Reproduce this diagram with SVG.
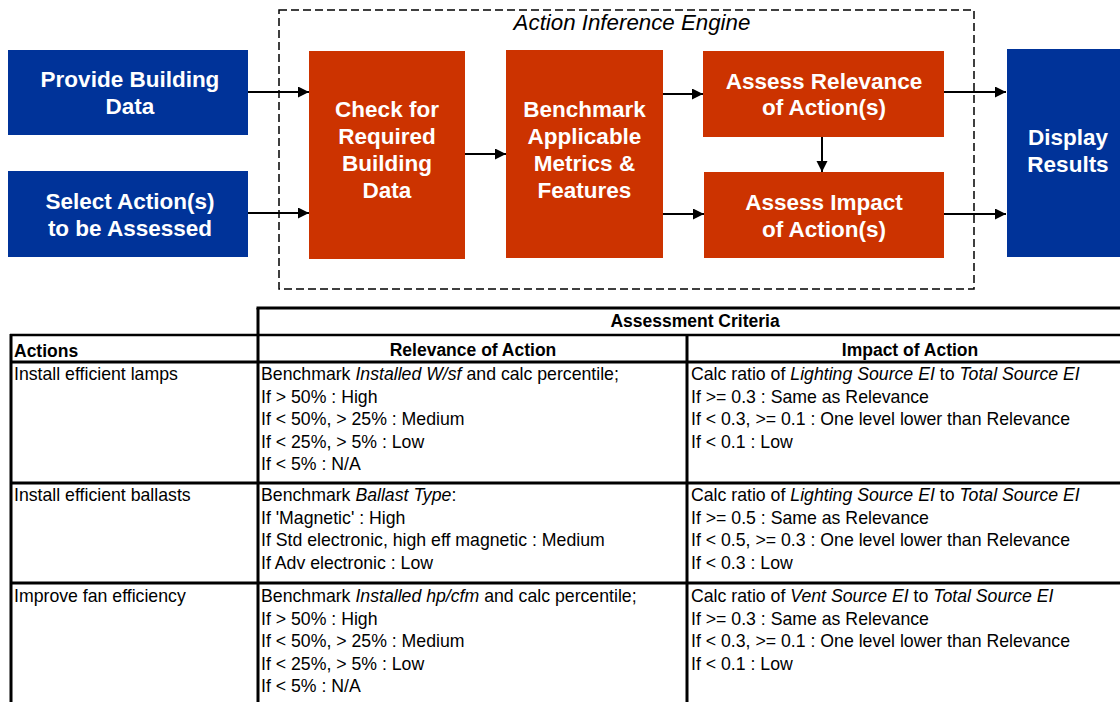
<svg xmlns="http://www.w3.org/2000/svg" width="1120" height="702" viewBox="0 0 1120 702">
<defs>
<marker id="ah" markerUnits="userSpaceOnUse" markerWidth="12" markerHeight="12" refX="11" refY="5.5" orient="auto">
<path d="M0,0 L11,5.5 L0,11 z" fill="#000"/>
</marker>
<style>
.blue{fill:#003399}
.orange{fill:#CC3300}
.nt{font-family:"Liberation Sans",Arial,sans-serif;font-size:22.5px;font-weight:bold;fill:#fff;text-anchor:middle}
.conn line{stroke:#000;stroke-width:2;marker-end:url(#ah)}
.grid line{stroke:#000;stroke-width:3}
.tt{font-family:"Liberation Sans",Arial,sans-serif;font-size:17.7px;fill:#000}
.th{font-family:"Liberation Sans",Arial,sans-serif;font-size:17.5px;font-weight:bold;fill:#000}
.it{font-style:italic}
</style>
</defs>
<rect width="1120" height="702" fill="#fff"/>

<g id="engine">
<rect x="279" y="10" width="695" height="279" fill="none" stroke="#000" stroke-width="1.5" stroke-dasharray="8 4"/>
<text x="632" y="30" font-family="Liberation Sans, Arial, sans-serif" font-size="22.3" font-style="italic" text-anchor="middle">Action Inference Engine</text>
</g>

<g id="provide">
<rect class="blue" x="8" y="50" width="240" height="85"/>
<text class="nt" x="130" y="87">Provide Building</text>
<text class="nt" x="130" y="114">Data</text>
</g>
<g id="select">
<rect class="blue" x="8" y="171" width="240" height="86"/>
<text class="nt" x="130" y="209">Select Action(s)</text>
<text class="nt" x="130" y="236">to be Assessed</text>
</g>
<g id="check">
<rect class="orange" x="309" y="51" width="156" height="208"/>
<text class="nt" x="387" y="117">Check for</text>
<text class="nt" x="387" y="144">Required</text>
<text class="nt" x="387" y="171">Building</text>
<text class="nt" x="387" y="198">Data</text>
</g>
<g id="benchmark">
<rect class="orange" x="506" y="50" width="157" height="208"/>
<text class="nt" x="584.5" y="117">Benchmark</text>
<text class="nt" x="584.5" y="144">Applicable</text>
<text class="nt" x="584.5" y="171">Metrics &amp;</text>
<text class="nt" x="584.5" y="198">Features</text>
</g>
<g id="relevance">
<rect class="orange" x="703" y="51" width="241" height="86"/>
<text class="nt" x="824" y="89">Assess Relevance</text>
<text class="nt" x="824" y="115">of Action(s)</text>
</g>
<g id="impact">
<rect class="orange" x="704" y="172" width="240" height="86"/>
<text class="nt" x="824" y="210">Assess Impact</text>
<text class="nt" x="824" y="237">of Action(s)</text>
</g>
<g id="display">
<rect class="blue" x="1007" y="49" width="120" height="208"/>
<text class="nt" x="1068" y="145">Display</text>
<text class="nt" x="1068" y="172">Results</text>
</g>

<g id="connectors" class="conn">
<line x1="248" y1="92" x2="309" y2="92"/>
<line x1="248" y1="213" x2="309" y2="213"/>
<line x1="465" y1="154" x2="506" y2="154"/>
<line x1="663" y1="94" x2="703" y2="94"/>
<line x1="663" y1="214" x2="704" y2="214"/>
<line x1="822" y1="137" x2="822" y2="172"/>
<line x1="944" y1="92" x2="1006" y2="92"/>
<line x1="944" y1="214" x2="1006" y2="214"/>
</g>

<g id="table">
<g class="grid">
<line x1="256.5" y1="308" x2="1120" y2="308"/>
<line x1="258" y1="308" x2="258" y2="702"/>
<line x1="10" y1="335" x2="1120" y2="335" style="stroke-width:2.5"/>
<line x1="11" y1="334" x2="11" y2="702"/>
<line x1="687" y1="335" x2="687" y2="702"/>
<line x1="10" y1="362" x2="1120" y2="362"/>
<line x1="10" y1="483" x2="1120" y2="483"/>
<line x1="10" y1="583" x2="1120" y2="583"/>
</g>
<text class="th" x="695" y="327" text-anchor="middle">Assessment Criteria</text>
<text class="th" x="14" y="357">Actions</text>
<text class="th" x="473" y="356" text-anchor="middle">Relevance of Action</text>
<text class="th" x="910" y="356" text-anchor="middle">Impact of Action</text>

<text class="tt" x="14" y="380">Install efficient lamps</text>
<text class="tt" x="261" y="380">Benchmark <tspan class="it">Installed W/sf</tspan> and calc percentile;</text>
<text class="tt" x="261" y="402.5">If &gt; 50% : High</text>
<text class="tt" x="261" y="425">If &lt; 50%, &gt; 25% : Medium</text>
<text class="tt" x="261" y="447.5">If &lt; 25%, &gt; 5% : Low</text>
<text class="tt" x="261" y="470">If &lt; 5% : N/A</text>
<text class="tt" x="691" y="380">Calc ratio of <tspan class="it">Lighting Source EI</tspan> to <tspan class="it">Total Source EI</tspan></text>
<text class="tt" x="691" y="402.5">If &gt;= 0.3 : Same as Relevance</text>
<text class="tt" x="691" y="425">If &lt; 0.3, &gt;= 0.1 : One level lower than Relevance</text>
<text class="tt" x="691" y="447.5">If &lt; 0.1 : Low</text>

<text class="tt" x="14" y="501">Install efficient ballasts</text>
<text class="tt" x="261" y="501">Benchmark <tspan class="it">Ballast Type</tspan>:</text>
<text class="tt" x="261" y="523.5">If 'Magnetic' : High</text>
<text class="tt" x="261" y="546">If Std electronic, high eff magnetic : Medium</text>
<text class="tt" x="261" y="568.5">If Adv electronic : Low</text>
<text class="tt" x="691" y="501">Calc ratio of <tspan class="it">Lighting Source EI</tspan> to <tspan class="it">Total Source EI</tspan></text>
<text class="tt" x="691" y="523.5">If &gt;= 0.5 : Same as Relevance</text>
<text class="tt" x="691" y="546">If &lt; 0.5, &gt;= 0.3 : One level lower than Relevance</text>
<text class="tt" x="691" y="568.5">If &lt; 0.3 : Low</text>

<text class="tt" x="14" y="602">Improve fan efficiency</text>
<text class="tt" x="261" y="602">Benchmark <tspan class="it">Installed hp/cfm</tspan> and calc percentile;</text>
<text class="tt" x="261" y="624.5">If &gt; 50% : High</text>
<text class="tt" x="261" y="647">If &lt; 50%, &gt; 25% : Medium</text>
<text class="tt" x="261" y="669.5">If &lt; 25%, &gt; 5% : Low</text>
<text class="tt" x="261" y="692">If &lt; 5% : N/A</text>
<text class="tt" x="691" y="602">Calc ratio of <tspan class="it">Vent Source EI</tspan> to <tspan class="it">Total Source EI</tspan></text>
<text class="tt" x="691" y="624.5">If &gt;= 0.3 : Same as Relevance</text>
<text class="tt" x="691" y="647">If &lt; 0.3, &gt;= 0.1 : One level lower than Relevance</text>
<text class="tt" x="691" y="669.5">If &lt; 0.1 : Low</text>
</g>
</svg>
